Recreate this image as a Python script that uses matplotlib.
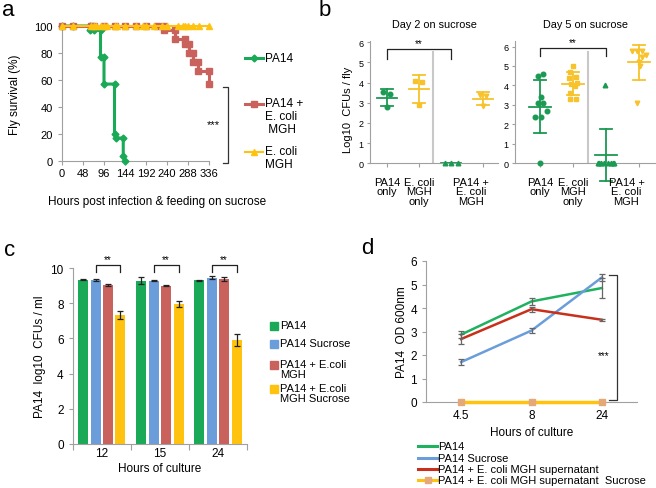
import matplotlib
matplotlib.use('Agg')
import matplotlib.pyplot as plt
import numpy as np

plt.rcParams['font.family'] = ['Liberation Sans', 'DejaVu Sans']
plt.rcParams['font.size'] = 8

# ---------------- data ----------------
# panel a: survival curves (hours, % survival)
a_hours_pa14 = [0, 24, 64, 64, 72, 88, 88, 96, 96, 120, 120, 123, 140, 140, 144]
a_surv_pa14 = [100, 100, 100, 97, 97, 97, 77, 77, 57, 57, 20, 17, 17, 4, 0]
a_hours_mix = [0, 24, 66, 72, 96, 120, 144, 168, 192, 216, 232, 232, 258, 258, 280, 280, 290, 290, 300, 300, 310, 310, 336, 336]
a_surv_mix = [100, 100, 100, 100, 100, 100, 100, 100, 100, 100, 100, 97, 97, 90, 90, 87, 87, 80, 80, 73, 73, 67, 67, 57]
a_hours_ecoli = [0, 24, 66, 72, 78, 90, 96, 102, 120, 126, 144, 168, 186, 192, 210, 228, 240, 264, 276, 282, 288, 300, 312, 336]
a_surv_ecoli = [100] * 24
a_xticks = [0, 48, 96, 144, 192, 240, 288, 336]

# panel b: Log10 CFUs / fly
b_labels = ['PA14\nonly', 'E. coli\nMGH\nonly', 'PA14 +\nE. coli\nMGH']
d2_pa14_only = [3.55, 3.42, 2.78]
d2_ecoli_only = [4.1, 4.05, 2.9]
d2_co_pa14 = [0, 0, 0]
d2_co_ecoli = [3.4, 3.35, 2.82]
d5_pa14_only = [4.48, 4.6, 3.4, 3.09, 3.09, 2.68, 2.4, 2.4, 0]
d5_ecoli_only = [5.0, 4.7, 4.45, 4.4, 4.15, 4.1, 3.95, 3.6, 3.3, 3.3]
d5_co_pa14 = [4, 0, 0, 0, 0, 0, 0, 0, 0]
d5_co_ecoli = [5.75, 5.75, 5.75, 5.55, 5.45, 5.2, 5.0, 3.1]

# panel c: PA14 log10 CFUs / ml
c_hours = ['12', '15', '24']
c_series = ['PA14', 'PA14 Sucrose', 'PA14 + E.coli\nMGH', 'PA14 + E.coli\nMGH Sucrose']
c_pa14 = [9.32, 9.27, 9.30]
c_pa14_err = [0.03, 0.20, 0.03]
c_pa14_suc = [9.33, 9.28, 9.45]
c_pa14_suc_err = [0.05, 0.04, 0.10]
c_pa14_ec = [9.03, 8.99, 9.38]
c_pa14_ec_err = [0.08, 0.02, 0.10]
c_pa14_ec_suc = [7.32, 7.95, 5.90]
c_pa14_ec_suc_err = [0.22, 0.15, 0.33]

# panel d: PA14 OD 600nm
d_hours = ['4.5', '8', '24']
d_series = ['PA14', 'PA14 Sucrose', 'PA14 + E. coli MGH supernatant',
            'PA14 + E. coli MGH supernatant  Sucrose']
d_pa14 = [2.87, 4.28, 4.85]
d_pa14_err = [0.15, 0.14, 0.42]
d_pa14_suc = [1.70, 3.04, 5.30]
d_pa14_suc_err = [0.12, 0.10, 0.13]
d_pa14_sup = [2.68, 3.95, 3.50]
d_pa14_sup_err = [0.20, 0.10, 0.05]
d_pa14_sup_suc = [0, 0, 0]

# ---------------- styles ----------------
GREEN = '#19a957'
BLUE = '#6b9ddb'
RED = '#c9625d'
YELLOW = '#ffc30f'
DRED = '#c8301c'
SPINE = '#a0a0a0'

W, H = 656, 489
fig = plt.figure(figsize=(W / 100, H / 100), dpi=100)


def add_ax(l, t, r, b):
    return fig.add_axes([l / W, 1 - b / H, (r - l) / W, (b - t) / H])


def style(ax, fs=8):
    for s in ['top', 'right']:
        ax.spines[s].set_visible(False)
    for s in ['left', 'bottom']:
        ax.spines[s].set_color(SPINE)
        ax.spines[s].set_linewidth(0.8)
    ax.tick_params(colors=SPINE, labelcolor='black', labelsize=fs, length=3, width=0.8)


ov = fig.add_axes([0, 0, 1, 1], zorder=10)
ov.set_xlim(0, W)
ov.set_ylim(H, 0)
ov.axis('off')
ov.patch.set_alpha(0)

# ---------------- panel a ----------------
ax = add_ax(62, 27, 209, 162)
style(ax)
ax.plot(a_hours_pa14, a_surv_pa14, color=GREEN, lw=2.2, marker='D', ms=3.5, clip_on=False, zorder=3)
ax.plot(a_hours_mix, a_surv_mix, color=RED, lw=2.2, marker='s', ms=4, clip_on=False, zorder=4)
ax.plot(a_hours_ecoli, a_surv_ecoli, color=YELLOW, lw=1.5, marker='^', ms=4.5, clip_on=False, zorder=5)
ax.set_xlim(0, 336)
ax.set_ylim(0, 100)
ax.set_xticks(a_xticks)
ax.set_yticks([0, 20, 40, 60, 80, 100])
ax.tick_params(axis='x', pad=2)
ov.text(15, 95, 'Fly survival (%)', rotation=90, fontsize=8.5, ha='center', va='center')
ov.text(157, 202, 'Hours post infection & feeding on sucrose', fontsize=8.5, ha='center', va='center')
ov.text(8, 10, 'a', fontsize=16, ha='center', va='center')
# legend a
ov.plot([245, 263], [59, 59], color=GREEN, lw=2.2)
ov.plot([254], [59], color=GREEN, marker='D', ms=3.5)
ov.text(265, 59, 'PA14', fontsize=8.5, va='center')
ov.plot([245, 263], [105, 105], color=RED, lw=2.2)
ov.plot([254], [105], color=RED, marker='s', ms=4)
ov.text(265, 98, 'PA14 +\nE. coli\n MGH', fontsize=8.5, va='top', linespacing=1.1)
ov.plot([245, 263], [153, 153], color=YELLOW, lw=1.5)
ov.plot([254], [153], color=YELLOW, marker='^', ms=4.5)
ov.text(265, 146, 'E. coli\nMGH', fontsize=8.5, va='top', linespacing=1.1)
ov.plot([223, 228, 228, 223], [88, 88, 164, 164], color='#333333', lw=0.9)
ov.text(213, 125, '***', fontsize=8, ha='center', va='center')

# ---------------- panel b ----------------
BG = '#1a9a52'
BY = '#f7c22a'


def scatter_group(ax, x, vals, offs, marker, color):
    vals = np.array(vals, dtype=float)
    xs = x + np.array(offs)
    ax.plot(xs, vals, ls='none', marker=marker, color=color, ms=3.3, clip_on=False, zorder=3)
    m = vals.mean()
    sd = vals.std(ddof=1)
    ax.plot([x - 0.32, x + 0.32], [m, m], color=color, lw=1.3, clip_on=False)
    ax.plot([x, x], [m - sd, m + sd], color=color, lw=1.3, clip_on=False)
    for yy in (m - sd, m + sd):
        ax.plot([x - 0.18, x + 0.18], [yy, yy], color=color, lw=1.3, clip_on=False)


def b_panel(l, r, x0, dx, ytop, title, groups, bracket_y, sep_top):
    ax = add_ax(l, 41.7, r, 164.3)
    style(ax, fs=6.5)
    ax.set_xlim((l - x0) / dx, (r - x0) / dx)
    ax.set_ylim(0, ytop)
    ax.set_yticks(range(7))
    ax.set_xticks([0, 1, 3])
    ax.set_xticklabels([])
    ax.tick_params(axis='y', length=2.5, pad=2)
    for (x, vals, offs, mk, col) in groups:
        scatter_group(ax, x, vals, offs, mk, col)
    ax.plot([2 - 0.55, 2 - 0.55], [0.08, sep_top], color='#c8c8c8', lw=1.5)
    b1, b2 = bracket_y
    ax.plot([0, 0, 2, 2], [b2, b1, b1, b2], color='#222222', lw=0.9, clip_on=False)
    ax.text(1, b1 + 0.05, '**', ha='center', va='bottom', fontsize=7)
    for x, lab in zip([0, 1, 2.62], b_labels):
        ov.text(x0 + x * dx, 178, lab, ha='center', va='top', fontsize=8, linespacing=0.92)
    ov.text((l + r) / 2 - 0, 25, title, ha='center', va='center', fontsize=7.8)
    return ax


b_panel(370, 498, 387, 32, 6.08, 'Day 2 on sucrose',
        [(0, d2_pa14_only, [-0.14, 0.09, 0], 'o', BG),
         (1, d2_ecoli_only, [-0.12, 0.1, 0], 's', BY),
         (2, d2_co_pa14, [-0.19, 0, 0.21], '^', BG),
         (3, d2_co_ecoli, [-0.1, 0.1, 0], 'v', BY)],
        (5.66, 5.17), 5.5)
b_panel(515, 656, 540, 33, 6.3, 'Day 5 on sucrose',
        [(0, d5_pa14_only, [-0.07, 0.1, 0.02, -0.05, 0.1, 0.2, -0.15, 0.03, 0], 'o', BG),
         (1, d5_ecoli_only, [0, -0.1, 0.1, -0.12, 0.12, -0.05, 0.05, -0.1, -0.08, 0.08], 's', BY),
         (2, d5_co_pa14, [-0.03, -0.25, -0.15, -0.05, 0.05, 0.15, 0.25, -0.2, 0.2], '^', BG),
         (3, d5_co_ecoli, [-0.2, -0.05, 0.1, 0.2, 0.1, 0, 0.03, -0.07], 'v', BY)],
        (5.9, 5.5), 5.74)
ov.text(348, 110, 'Log10  CFUs / fly', rotation=90, ha='center', va='center', fontsize=8)
ov.text(325, 10, 'b', fontsize=16, ha='center', va='center')

# ---------------- panel c ----------------
ax = add_ax(72.7, 269, 247, 445)
style(ax, fs=8.5)
xc = np.arange(len(c_hours))
bw, step = 0.172, 0.215
cvals = [(c_pa14, c_pa14_err, GREEN), (c_pa14_suc, c_pa14_suc_err, BLUE),
         (c_pa14_ec, c_pa14_ec_err, RED), (c_pa14_ec_suc, c_pa14_ec_suc_err, YELLOW)]
for i, (v, e, col) in enumerate(cvals):
    ax.bar(xc + (i - 1.5) * step, v, bw, color=col, yerr=e,
           error_kw=dict(ecolor='#222222', elinewidth=0.9, capsize=2.2, capthick=0.9))
ax.set_xlim(-0.5, 2.5)
ax.set_ylim(0, 10)
ax.set_yticks([0, 2, 4, 6, 8, 10])
ax.set_xticks([-0.5, 0.5, 1.5, 2.5])
ax.set_xticklabels([])
ax.set_xticks(xc, minor=True)
ax.set_xticklabels(c_hours, minor=True)
ax.tick_params(axis='x', which='minor', length=0, labelsize=8.5, pad=2)
ax.tick_params(axis='x', which='major', length=4)
ov.text(160, 469, 'Hours of culture', fontsize=8.5, ha='center', va='center')
ov.text(40, 357, 'PA14  log10  CFUs / ml', rotation=90, fontsize=8.5, ha='center', va='center')
for x in xc:
    xl, xr = x - 0.5 * step, x + 1.5 * step
    ax.plot([xl, xl, xr, xr], [9.75, 10.19, 10.19, 9.75], color='#222222', lw=0.9, clip_on=False)
    ax.text((xl + xr) / 2, 10.22, '**', ha='center', va='bottom', fontsize=7)
ov.text(10, 251, 'c', fontsize=16, ha='center', va='center')
leg_y = [327, 345, 366, 390]
for yy, lab, (_, _, col) in zip(leg_y, c_series, cvals):
    ov.plot([274], [yy], marker='s', ms=5.5, color=col, ls='none')
    ov.text(280, yy - 6, lab, fontsize=8, va='top', linespacing=1.0)

# ---------------- panel d ----------------
ax = add_ax(426, 262, 637, 403)
style(ax, fs=8.5)
xd = np.arange(len(d_hours))
dlines = [(d_pa14, d_pa14_err, '#1fb25e'), (d_pa14_suc, d_pa14_suc_err, BLUE),
          (d_pa14_sup, d_pa14_sup_err, DRED)]
for v, e, col in dlines:
    ax.plot(xd, v, color=col, lw=1.8, zorder=3)
    ax.errorbar(xd, v, yerr=e, fmt='none', ecolor='#666666', elinewidth=0.9, capsize=2, capthick=0.9, zorder=4)
ax.plot(xd, d_pa14_sup_suc, color=YELLOW, lw=2.5, marker='s', ms=4.5, mfc='#e5a878', mec='#e5a878',
        clip_on=False, zorder=5)
ax.set_xlim(-0.5, 2.5)
ax.set_ylim(0, 6)
ax.set_yticks(range(7))
ax.set_xticks(xd)
ax.set_xticklabels(d_hours)
ax.tick_params(axis='x', length=0, pad=5)
ov.text(532, 433, 'Hours of culture', fontsize=8.5, ha='center', va='center')
ov.text(402, 332, 'PA14  OD 600nm', rotation=90, fontsize=8.5, ha='center', va='center')
ax.plot([2.1, 2.22, 2.22, 2.1], [5.39, 5.39, 0.07, 0.07], color='#333333', lw=0.9, clip_on=False)
ax.text(2.03, 1.98, '***', ha='center', va='center', fontsize=7)
ov.text(367, 249, 'd', fontsize=16, ha='center', va='center')
dl_y = [447, 459, 470, 481]
dl_cols = ['#1fb25e', BLUE, DRED, YELLOW]
for yy, lab, col in zip(dl_y, d_series, dl_cols):
    ov.plot([418, 437], [yy, yy], color=col, lw=2.2)
    ov.text(438, yy, lab, fontsize=8, va='center')
ov.plot([427.5], [dl_y[3]], marker='s', ms=4.5, color='#e5a878')

fig.savefig('out.png', dpi=100)
